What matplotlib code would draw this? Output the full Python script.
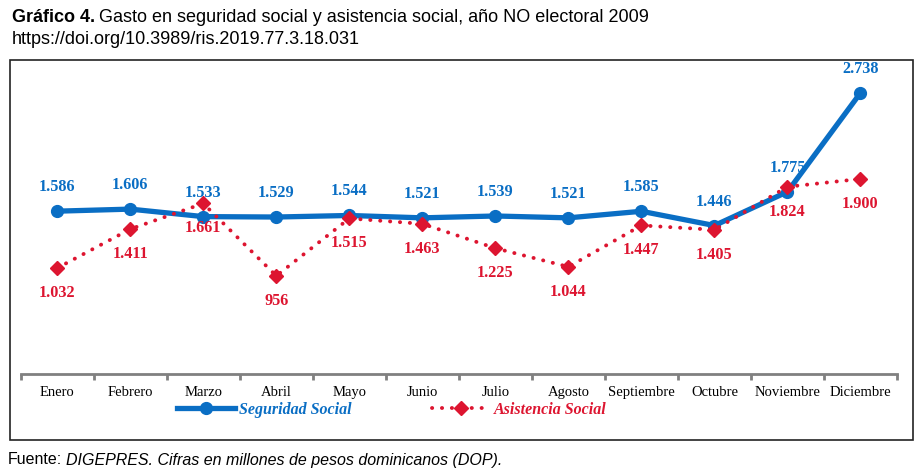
import matplotlib
matplotlib.use("Agg")
import matplotlib.pyplot as plt
from matplotlib.lines import Line2D
from matplotlib.patches import Rectangle

months = ["Enero", "Febrero", "Marzo", "Abril", "Mayo", "Junio", "Julio",
          "Agosto", "Septiembre", "Octubre", "Noviembre", "Diciembre"]
seguridad = [1586, 1606, 1533, 1529, 1544, 1521, 1539, 1521, 1585, 1446, 1775, 2738]
asistencia = [1032, 1411, 1661, 956, 1515, 1463, 1225, 1044, 1447, 1405, 1824, 1900]
series_names = ["Seguridad Social", "Asistencia Social"]

BLUE = "#0A6EC4"
RED = "#DD1530"
SERIF = "Liberation Serif"


def fmt(v):
    return f"{v:,}".replace(",", ".")


W, H = 922, 472
fig = plt.figure(figsize=(W / 100, H / 100), dpi=100)

# outer frame
fig.patches.append(Rectangle((10 / W, 1 - 440 / H), (913 - 10) / W, (440 - 60) / H,
                             transform=fig.transFigure, fill=False,
                             edgecolor="#222222", linewidth=1.2))

ax = fig.add_axes([20.7 / W, 1 - 374 / H, (897 - 20.7) / W, (374 - 66) / H])
x = list(range(len(months)))

ax.plot(x, seguridad, color=BLUE, linewidth=3.8, marker="o", markersize=8.5,
        solid_capstyle="round", zorder=3)
ax.plot(x, asistencia, color=RED, linewidth=2.8, linestyle=(0, (0.05, 2.5)),
        dash_capstyle="round", marker="D", markersize=7, zorder=4)

for i, v in enumerate(seguridad):
    ax.annotate(fmt(v), (i, v), xytext=(0, 24), textcoords="offset pixels",
                ha="center", va="center", color=BLUE, fontsize=11.7,
                fontweight="bold", family=SERIF, zorder=5)
for i, v in enumerate(asistencia):
    ax.annotate(fmt(v), (i, v), xytext=(0, -25), textcoords="offset pixels",
                ha="center", va="center", color=RED, fontsize=11.7,
                fontweight="bold", family=SERIF, zorder=5)

ax.set_xlim(-0.5, len(months) - 0.5)
ax.set_ylim(0, 3000)
ax.set_facecolor("none")
for s in ["top", "left", "right"]:
    ax.spines[s].set_visible(False)
ax.spines["bottom"].set_color("#808080")
ax.spines["bottom"].set_linewidth(2)
ax.set_yticks([])

ax.set_xticks([i - 0.5 for i in range(len(months) + 1)])
ax.set_xticklabels([])
ax.set_xticks(x, minor=True)
ax.set_xticklabels(months, minor=True, family=SERIF, fontsize=10.5)
ax.tick_params(axis="x", which="major", direction="out", length=4, width=2,
               color="#808080")
ax.tick_params(axis="x", which="minor", length=0, pad=8.5)

handles = [
    Line2D([], [], color=BLUE, linewidth=3.8, marker="o", markersize=8.5),
    Line2D([], [], color=RED, linewidth=2.8, linestyle=(0, (0.05, 2.5)),
           dash_capstyle="round", marker="D", markersize=7),
]
leg = ax.legend(handles, series_names, loc="center",
                bbox_to_anchor=(392 / W, 1 - 410 / H), bbox_transform=fig.transFigure,
                ncol=2, frameon=False, handlelength=3.6, handletextpad=0.3,
                columnspacing=5.0, borderpad=0,
                prop={"family": SERIF, "size": 11.5,
                      "weight": "bold", "style": "italic"})
for t, c in zip(leg.get_texts(), [BLUE, RED]):
    t.set_color(c)

# title
SANS = "Liberation Sans"
t1 = fig.text(12 / W, 1 - 17 / H, "Gráfico 4.", family=SANS, fontsize=13,
              fontweight="bold", va="center", ha="left")
fig.canvas.draw()
bb = t1.get_window_extent()
fig.text((bb.x1 + 4) / W, 1 - 17 / H,
         "Gasto en seguridad social y asistencia social, año NO electoral 2009",
         family=SANS, fontsize=13, va="center", ha="left")
fig.text(12 / W, 1 - 39 / H, "https://doi.org/10.3989/ris.2019.77.3.18.031",
         family=SANS, fontsize=13, va="center", ha="left")

f1 = fig.text(8 / W, 1 - 460 / H, "Fuente:", family=SANS, fontsize=11.5,
              va="center", ha="left")
fig.canvas.draw()
bb = f1.get_window_extent()
fig.text((bb.x1 + 4) / W, 1 - 460 / H,
         "DIGEPRES. Cifras en millones de pesos dominicanos (DOP).",
         family=SANS, fontsize=11.5, style="italic", va="center", ha="left")

fig.savefig("out.png", dpi=100)
